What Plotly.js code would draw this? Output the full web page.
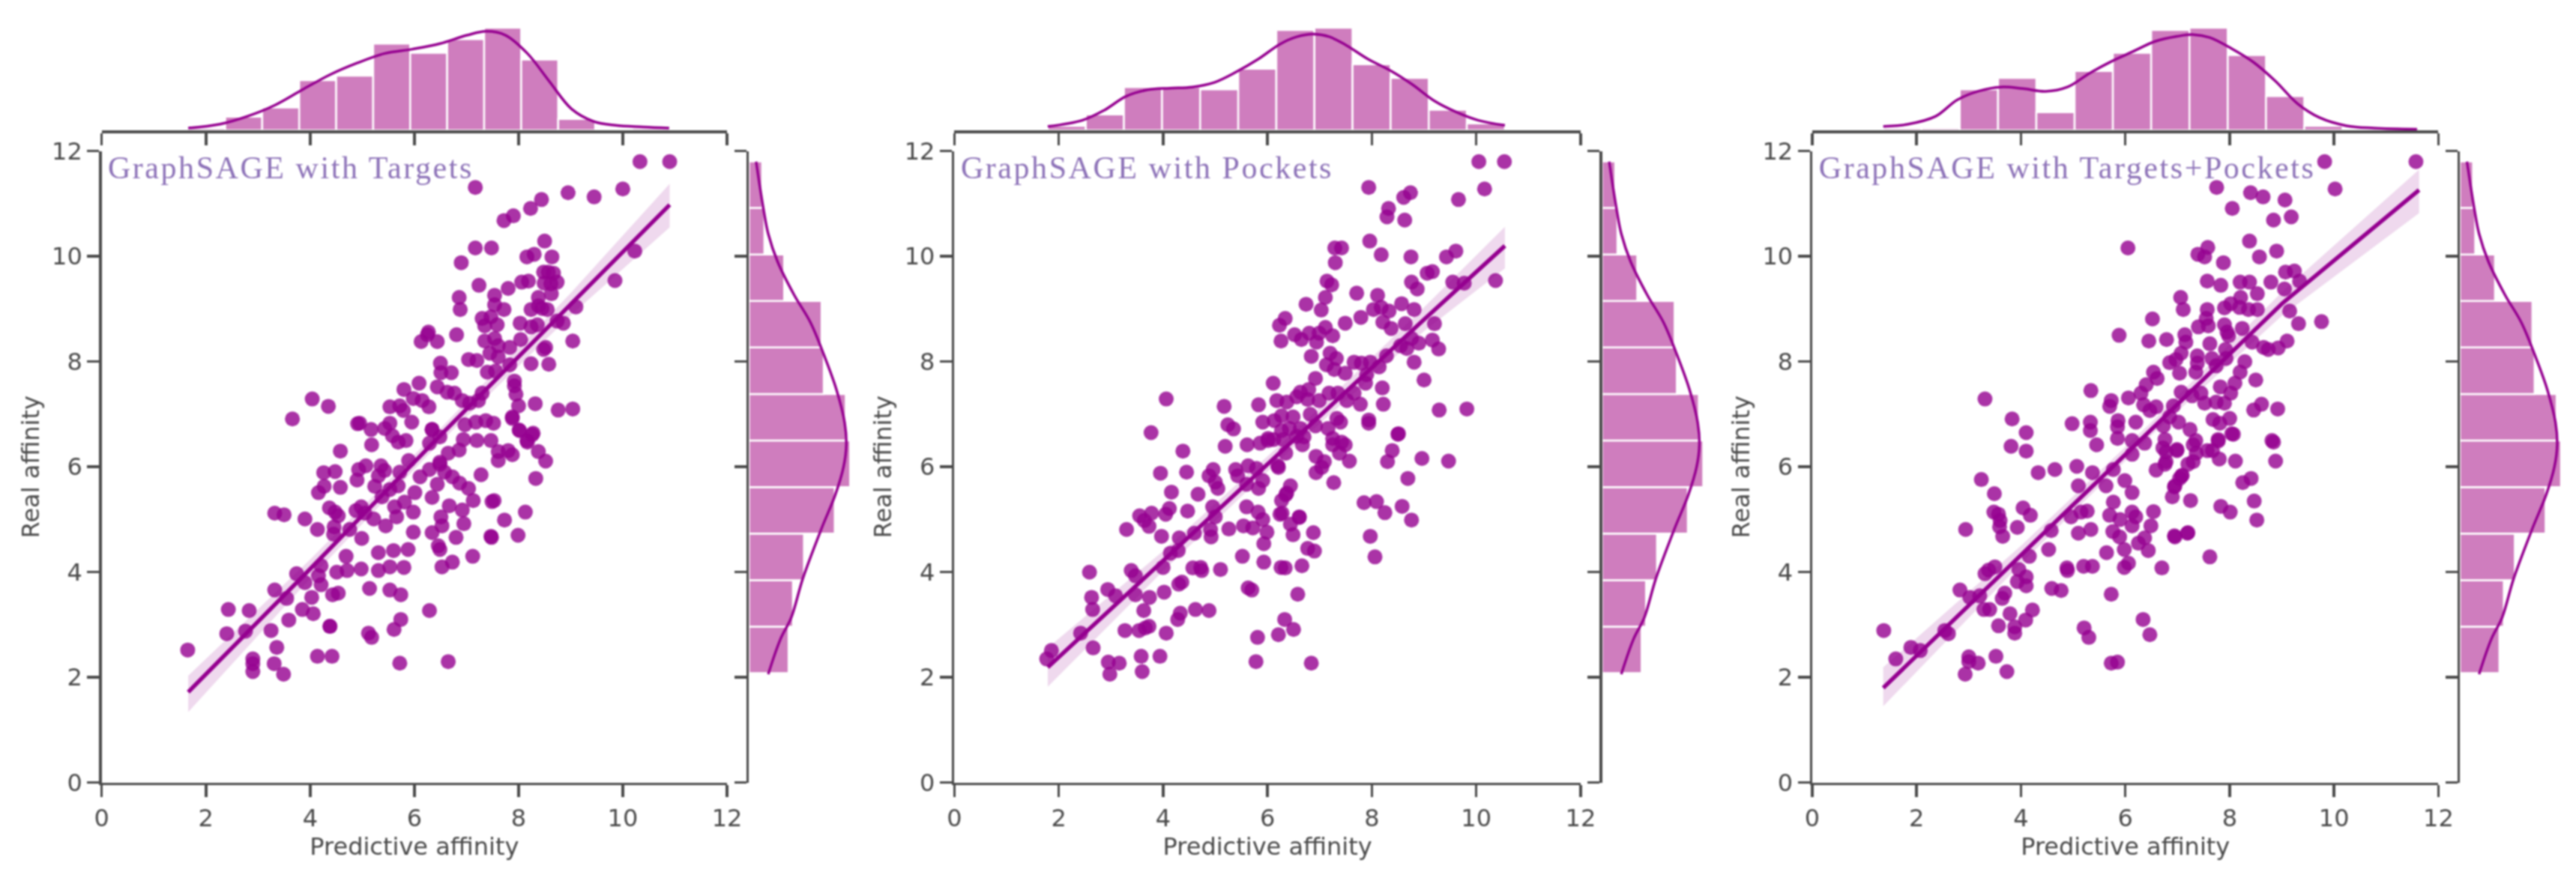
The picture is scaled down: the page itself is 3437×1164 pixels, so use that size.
<!DOCTYPE html>
<html><head><meta charset="utf-8">
<script src="https://cdn.plot.ly/plotly-3.0.1.min.js"></script>
<style>html,body{margin:0;padding:0;background:#fff}#c{width:3437px;height:1164px;filter:blur(0.8px)}.annotation text{letter-spacing:2.55px}</style>
</head><body><div id="c"></div>
<script>
// Panel 1: GraphSAGE with Targets
const targetsX=[4.04,4.35,3.66,4.91,5.84,5.69,5.18,4.58,6.34,4.26,4.48,4.93,5.07,5.36,5.43,4.9,5.31,5.24,4.58,4.27,4.16,5.89,5.72,6.11,6.29,6.49,6.65,6.86,6.29,6.49,7.28,6.49,6.58,6.73,6.87,7.04,6.44,6.34,7.13,6.01,5.69,5.53,5.38,5.81,5.62,5.98,5.66,5.22,5.45,5.98,6.67,6.92,6.51,6.53,6.95,6.34,6.8,6.46,6.49,7.12,7.48,7.49,6.73,6.53,4.37,4.48,4.54,3.32,3.5,3.9,4.14,4.46,4.45,4.76,4.99,4.88,4.98,5.05,4.69,5.31,5.6,5.88,5.8,5.53,5.31,4.98,4.71,4.51,4.21,4.16,3.74,3.9,4.21,3.32,3.55,4.03,4.54,4.43,5.14,5.53,5.74,6.29,2.43,2.83,3.85,4.06,3.59,4.38,4.38,5.74,5.61,2.4,2.76,3.25,5.12,5.18,3.36,1.65,4.14,4.42,2.9,2.9,3.31,2.9,3.49,5.72,6.65,
10.33,10.9,7.17,8.95,9.45,10.0,8.44,8.23,7.9,7.72,8.5,7.17,7.48,8.3,8.16,8.64,6.9,10.23,8.57,8.48,8.67,9.85,8.19,8.06,7.24,8.74,8.49,8.62,7.8,8.63,7.54,6.86,6.88,7.54,7.72,8.38,9.1,8.38,8.24,8.45,8.55,7.3,7.47,8.74,8.86,8.03,8.24,8.36,7.35,7.59,6.27,6.13,6.44,6.25,6.81,9.04,7.35,7.54,8.04,7.61,7.83,8.52,8.48,7.45,7.04,7.2,7.61,7.83,8.24,8.58,6.5,6.51,6.71,7.4,7.56,7.92,7.92,6.09,5.8,6.44,6.63,6.77,7.95,5.98,6.15,6.28,6.92,7.3,7.23,7.06,8.0,8.32,8.76,9.04,5.53,5.72,5.79,5.95,7.88,6.97,7.18,7.37,7.52,6.34,8.02,8.28,8.16,4.95,5.17,5.53,5.43,5.58,6.94,7.2,7.47,
8.52,8.33,8.38,8.26,8.17,8.01,7.88,7.88,7.8,7.61,7.61,7.53,7.73,7.99,8.13,7.47];
const targetsY=[7.29,7.15,6.91,6.82,6.5,6.47,6.42,6.3,6.71,5.89,5.91,5.95,6.02,6.02,5.93,5.75,5.83,5.63,5.61,5.63,5.51,6.12,5.9,5.81,5.95,6.09,6.26,6.32,6.45,6.57,5.85,6.05,5.9,5.81,5.69,5.59,5.67,5.42,5.36,5.51,5.64,5.57,5.43,5.33,5.24,5.14,5.05,5.01,4.88,4.76,5.26,5.18,5.05,4.88,4.92,4.75,4.66,4.5,4.43,4.3,4.66,5.34,4.19,4.1,5.22,5.14,5.07,5.12,5.09,5.01,4.81,4.86,4.72,4.81,4.64,5.17,5.24,5.12,4.3,4.37,4.41,4.43,4.09,4.1,4.03,4.06,4.03,4.0,4.12,3.93,3.97,3.8,3.76,3.66,3.5,3.52,3.6,3.57,3.69,3.66,3.57,3.27,3.29,3.27,3.29,3.21,3.09,2.97,2.97,3.1,2.91,2.83,2.88,2.89,2.84,2.76,2.57,2.52,2.4,2.4,2.35,2.26,2.26,2.11,2.06,2.27,2.3,
11.8,11.8,11.31,11.21,11.13,11.28,11.08,10.91,10.77,10.68,10.29,10.16,10.16,10.04,9.99,9.99,9.88,10.1,9.7,9.7,9.68,9.54,9.53,9.51,9.45,9.51,9.49,9.48,9.39,9.29,9.26,9.22,8.99,9.08,8.99,9.22,9.04,9.06,8.99,9.01,8.99,8.82,8.85,8.77,8.73,8.73,8.66,8.7,8.68,8.7,8.56,8.38,8.38,8.51,8.51,8.39,8.39,8.44,8.42,8.3,8.27,8.27,8.23,8.16,8.04,8.02,8.09,7.94,7.96,7.95,7.97,7.79,7.79,7.8,7.82,7.63,7.54,7.59,7.47,7.52,7.42,7.4,7.38,7.3,7.26,7.14,7.26,7.4,7.26,7.21,7.16,7.2,7.08,7.1,7.14,7.16,7.07,6.85,6.92,6.8,6.85,6.88,6.83,6.71,6.69,6.64,6.5,6.83,6.71,6.83,6.73,6.59,6.52,6.5,6.5,
6.11,5.78,6.29,6.61,6.47,6.7,6.95,6.23,6.31,6.12,6.29,5.36,4.99,4.7,5.14,4.68];
// Panel 2: GraphSAGE with Pockets
const pocketsX=[4.06,5.17,5.83,3.77,5.24,5.35,5.91,5.19,4.38,5.61,5.86,6.01,6.12,3.95,4.45,4.96,4.88,5.0,5.05,5.39,5.43,5.63,5.79,5.6,5.91,5.83,6.2,6.44,6.37,6.27,6.28,6.61,6.44,6.49,6.88,4.16,4.67,4.12,4.47,4.95,5.0,3.55,3.78,4.05,3.64,3.73,3.3,3.97,4.31,4.6,4.91,4.92,5.26,5.54,5.72,5.6,5.82,5.91,5.99,5.93,4.29,4.14,5.52,6.77,6.9,5.93,6.26,6.34,6.66,2.59,3.39,3.47,4.0,4.57,4.72,4.74,5.1,2.94,3.09,2.63,2.65,3.47,3.74,4.02,4.3,4.36,3.63,4.33,4.28,4.62,4.88,5.63,5.7,6.58,6.33,6.5,6.21,5.81,2.42,3.27,3.54,3.66,3.73,4.06,2.66,1.86,1.77,2.95,3.16,3.58,3.94,2.98,3.6,5.78,6.84,
10.05,10.54,7.94,8.74,8.61,10.16,9.66,8.32,8.29,8.63,7.96,8.18,7.29,7.42,7.3,8.75,9.61,9.43,9.16,9.06,7.14,7.23,8.76,8.87,9.55,9.77,10.37,7.71,8.11,7.11,6.74,7.03,6.34,6.23,6.26,7.49,7.79,8.03,8.18,8.33,8.57,8.81,8.21,8.37,8.64,9.2,6.52,6.65,6.8,6.94,7.11,7.25,6.99,9.16,9.28,8.9,8.67,8.55,8.76,6.84,7.2,7.32,8.81,7.13,7.28,7.49,7.66,7.97,7.8,8.14,8.28,7.9,6.92,9.0,6.11,8.2,7.88,6.79,6.63,6.18,6.37,6.56,6.77,6.99,7.18,7.35,7.52,7.66,7.78,8.22,9.29,9.82,6.13,6.27,6.49,6.42,6.27,6.63,6.82,6.92,7.16,7.33,7.4,7.94,7.94,8.5,7.25,7.42,6.01,6.7,6.3,
7.57,7.38,7.25,7.49,7.27,6.93,7.04,6.93,7.09,8.3,8.39,8.51,8.96,9.47,8.69,8.58,8.76,7.85,8.09,8.25,7.97,8.06,6.61,6.67,6.56,6.35,6.21,6.35,6.24];
const pocketsY=[7.29,7.15,7.18,6.65,6.8,6.72,6.85,6.39,6.3,6.42,6.45,6.5,6.52,5.88,5.9,5.95,5.83,5.71,5.59,5.95,5.83,6.02,5.97,5.67,5.74,5.59,6.02,5.64,5.5,5.36,5.12,5.05,4.91,4.71,4.75,5.52,5.48,5.21,5.16,5.24,5.05,5.07,5.12,5.1,4.98,4.87,4.81,4.68,4.65,4.74,4.81,4.67,4.82,4.88,4.84,5.24,5.14,5.0,4.76,4.54,4.41,4.36,4.3,4.45,4.4,4.19,4.09,4.08,4.12,4.0,4.03,3.93,4.09,4.08,4.09,4.03,4.05,3.67,3.55,3.52,3.29,3.57,3.52,3.62,3.77,3.81,3.27,3.22,3.1,3.29,3.27,3.7,3.66,3.58,3.1,2.91,2.81,2.76,2.84,2.89,2.89,2.94,2.97,2.84,2.56,2.51,2.35,2.29,2.27,2.4,2.4,2.06,2.11,2.3,2.27,
11.8,11.8,11.31,11.21,11.12,11.28,11.08,10.91,10.75,10.69,10.29,10.03,10.16,10.16,9.88,9.99,10.1,9.99,9.71,9.68,9.53,9.46,9.51,9.38,9.51,9.49,9.54,9.3,9.26,9.22,9.09,8.98,8.82,8.69,8.39,8.73,8.84,8.99,9.03,8.96,9.1,8.99,8.75,8.63,8.72,8.72,8.51,8.42,8.54,8.37,8.65,8.49,8.54,8.41,8.24,8.35,8.25,8.3,8.44,8.1,8.16,8.06,7.99,7.94,7.85,7.78,7.99,7.99,7.97,7.9,8.11,7.75,7.68,7.65,7.59,7.5,7.59,7.47,7.42,7.26,7.23,7.33,7.28,7.26,7.4,7.4,7.26,7.4,7.19,7.19,7.08,7.1,6.88,6.97,6.95,6.73,6.69,6.73,7.0,6.78,6.73,6.92,6.85,6.89,6.83,6.62,6.54,6.47,6.54,6.57,6.52,
6.11,6.26,6.42,6.42,5.7,6.2,5.99,5.89,6.1,6.1,6.31,6.63,6.16,6.11,5.78,5.25,4.99,5.32,5.34,5.13,4.68,4.29,5.04,6.42,6.58,6.26,5.99,5.47,5.1];
// Panel 3: GraphSAGE with Targets+Pockets
const bothX=[3.31,3.83,4.1,3.81,4.1,5.34,5.73,5.7,6.06,6.3,6.35,6.47,6.59,4.98,5.33,5.33,5.45,5.86,5.85,5.85,6.2,6.13,6.37,6.13,6.76,6.99,6.78,4.33,4.65,5.07,5.1,5.37,5.77,5.63,5.99,6.13,6.59,6.76,7.08,6.9,6.95,3.24,3.49,3.48,3.57,3.6,3.59,3.65,4.04,4.18,3.93,2.94,4.58,5.27,4.96,5.15,5.1,5.34,5.77,5.7,5.9,5.76,5.89,6.13,6.2,6.13,6.54,6.49,6.37,6.25,6.44,5.98,5.64,4.53,4.16,6.95,7.19,6.7,6.06,5.98,4.88,4.89,5.2,5.37,3.5,3.38,3.31,3.96,4.1,3.93,4.1,2.83,3.02,3.21,3.69,3.64,4.59,4.77,5.73,3.29,3.4,3.79,4.22,4.09,3.57,3.88,3.88,5.21,5.3,6.34,6.47,1.37,2.54,2.61,1.89,2.07,1.6,3.0,3.0,3.18,3.52,3.73,2.93,5.73,5.85,
9.82,11.57,10.02,7.75,8.4,8.64,9.06,8.05,9.18,8.84,8.38,6.05,7.58,7.39,7.52,7.88,8.57,8.9,9.07,9.24,9.34,8.79,9.05,7.57,7.83,8.2,8.38,8.53,7.06,7.11,7.57,8.21,8.02,7.9,8.19,8.36,8.53,9.15,6.52,7.55,7.4,7.59,7.9,7.95,8.24,9.32,9.76,5.88,6.45,6.79,7.14,7.16,7.62,7.98,8.43,9.1,8.65,8.74,8.93,7.92,7.07,7.38,7.66,7.93,6.85,6.97,7.38,7.74,8.29,6.54,7.04,7.35,8.2,6.61,6.4,8.5,8.1,7.82,8.02,7.07,7.28,7.45,6.92,7.52,7.74,7.9,8.61,8.46,8.92,8.0,7.68,7.81,7.02,6.85,6.73,7.24,8.07,7.78,8.81,7.35,
8.88,8.84,8.11,8.41,8.25,8.47,8.52,8.01,7.83,7.62,7.25,7.2,6.94,7.8,7.36,7.57,7.67,7.3,7.3,7.09,7.04,6.94,7.2,6.78,6.72,6.99,7.78,8.04];
const bothY=[7.29,6.91,6.65,6.39,6.3,7.45,7.26,7.15,7.31,7.4,7.18,7.07,7.14,6.82,6.85,6.69,6.42,6.88,6.76,6.54,6.85,6.5,6.45,6.24,6.52,6.33,6.28,5.89,5.95,6.01,5.64,5.89,5.95,5.64,5.74,5.51,5.94,6.05,5.83,5.43,5.64,5.76,5.49,5.14,5.1,4.98,4.86,4.68,5.22,5.08,4.85,4.81,4.79,5.16,5.05,5.14,4.74,4.81,5.33,5.08,5.0,4.77,4.67,5.14,5.05,4.88,5.15,4.88,4.65,4.55,4.41,4.43,4.37,4.43,4.3,4.67,4.74,4.08,4.17,4.09,4.08,4.03,4.11,4.11,4.1,4.04,3.97,4.05,3.91,3.82,3.74,3.66,3.52,3.55,3.6,3.5,3.69,3.65,3.58,3.29,3.29,3.21,3.28,3.09,2.98,2.96,2.84,2.94,2.76,3.1,2.81,2.89,2.89,2.83,2.57,2.51,2.35,2.39,2.3,2.27,2.4,2.11,2.06,2.27,2.29,
11.8,11.8,11.28,11.31,11.21,11.13,11.07,10.91,10.75,10.69,10.29,10.16,10.17,10.04,9.99,9.88,9.99,10.1,9.7,9.72,9.53,9.51,9.38,9.53,9.45,9.51,9.51,9.29,9.22,8.99,8.99,9.22,9.1,9.02,9.03,8.99,8.99,8.96,8.81,8.82,8.66,8.68,8.7,8.56,8.63,8.72,8.76,8.5,8.39,8.42,8.51,8.37,8.34,8.49,8.37,8.39,8.27,8.23,8.26,8.23,8.16,8.11,8.06,8.06,7.98,8.04,7.97,7.92,8.0,7.8,7.78,7.8,7.8,7.68,7.56,7.65,7.59,7.52,7.4,7.42,7.35,7.4,7.16,7.21,7.23,7.21,7.19,7.08,7.1,6.92,6.9,6.83,6.85,6.95,6.78,6.71,6.62,6.52,6.5,6.5,
6.11,6.47,6.11,5.78,5.7,5.35,4.99,5.14,5.25,4.29,5.36,4.75,4.69,6.15,6.26,6.31,6.31,6.42,6.1,5.84,5.78,5.62,6.05,6.1,6.36,6.31,6.49,6.63];
// Regression lines and confidence bands
const fitX1=[1.66,4,6.5,9,10.9], fitLine1=[1.72,4.06,6.6,9.08,10.98], fitLow1=[1.34,3.88,6.47,8.88,10.55], fitHigh1=[2.03,4.24,6.73,9.3,11.38];
const fitX2=[1.79,4,6.5,9,10.55], fitLine2=[2.19,4.22,6.51,8.8,10.2], fitLow2=[1.82,4.02,6.38,8.58,9.77], fitHigh2=[2.56,4.4,6.65,9.03,10.56];
const fitX3=[1.36,4,6.5,9,11.63], fitLine3=[1.8,4.33,6.72,9.1,11.26], fitLow3=[1.45,4.16,6.6,8.87,10.82], fitHigh3=[2.19,4.5,6.85,9.32,11.65];
// Top histograms
const topStart1=1.66, topWidth1=0.71, topCount1=[1,6,10,22,24,38,34,40,45,31,5,0,1];
const topStart2=1.79, topWidth2=0.73, topCount2=[2,7,19,19,18,27,44,45,29,23,9,3];
const topStart3=1.36, topWidth3=0.7336, topCount3=[1,1,18,23,8,26,34,44,45,33,15,2,0,1];
// Top density curves
const kdeX1=[1.66,2.27,2.79,3.32,3.85,4.38,4.9,5.43,5.96,6.49,7.01,7.38,7.75,8.17,8.59,9.02,9.44,9.86,10.39,10.89];
const kdeC1=[1,2.7,6.1,11,17.8,24.4,29.5,33.7,35.6,38,41.7,43.4,41.7,33.7,21.5,9.3,3.9,2.2,1.5,1];
const kdeX2=[1.79,2.45,2.87,3.29,3.71,4.13,4.56,4.98,5.4,5.82,6.24,6.56,6.88,7.19,7.51,7.93,8.35,8.77,9.2,9.62,10.04,10.55];
const kdeC2=[1.7,4.4,8.8,14.9,17.8,18.5,19,21,25.6,31.2,37.8,41,42.2,41,37.3,31.2,26.3,20.2,12.9,8,4.4,2.2];
const kdeX3=[1.36,1.84,2.36,2.78,3.2,3.62,4.04,4.47,4.89,5.31,5.73,6.15,6.57,6.99,7.3,7.62,8.04,8.46,8.88,9.3,9.72,10.24,10.77,11.59];
const kdeC3=[1.7,2.7,6.1,13.4,17.3,19,18.3,17.1,19,25,30.2,34.6,39,41.2,42,40.7,35.8,29.8,21.5,11.7,5.6,2,1,0.5];
// Right histogram and density, same real affinity in each panel
const rightStart=2.08, rightWidth=0.884, rightCount=[18,20,25,39,46,44,34,33,16,7,6];
const rKdeY=[2.06,2.72,3.14,3.88,4.83,5.47,6.0,6.42,6.84,7.47,8.11,8.74,9.27,9.9,10.43,10.86,11.38,11.8];
const rKdeC=[8.75,14.25,19.25,24.5,33,39.25,43,44.25,43.5,39.75,34.25,28,20.5,13,8.75,6.75,4.75,3.25];
const titles=['GraphSAGE with Targets','GraphSAGE with Pockets','GraphSAGE with Targets+Pockets'];
const tickVals=[0,2,4,6,8,10,12];

const W=3437,H=1164, dark='#4a4a4a', purple='#950090';
const panels=[
 {x0:135.7,x1:970,sp:999.3,px:targetsX,py:targetsY,fx:fitX1,fl:fitLine1,lo:fitLow1,hi:fitHigh1,ts:topStart1,tw:topWidth1,tc:topCount1,kx:kdeX1,kc:kdeC1},
 {x0:1273.3,x1:2108.9,sp:2137.5,px:pocketsX,py:pocketsY,fx:fitX2,fl:fitLine2,lo:fitLow2,hi:fitHigh2,ts:topStart2,tw:topWidth2,tc:topCount2,kx:kdeX2,kc:kdeC2},
 {x0:2418,x1:3253.4,sp:3282,px:bothX,py:bothY,fx:fitX3,fl:fitLine3,lo:fitLow3,hi:fitHigh3,ts:topStart3,tw:topWidth3,tc:topCount3,kx:kdeX3,kc:kdeC3}];
const yB=1044.7,yT=201.7,topBase=174,topTop=30,rW=140;
const traces=[],layout={width:W,height:H,margin:{l:0,r:0,t:0,b:0},paper_bgcolor:'#fff',plot_bgcolor:'rgba(0,0,0,0)',showlegend:false,bargap:0,annotations:[]};
const font={family:'"DejaVu Sans",sans-serif',size:32,color:'#4a4a4a'};
const base={showgrid:false,zeroline:false,showline:true,linecolor:dark,linewidth:3.5,ticks:'outside',ticklen:16,tickwidth:3.5,tickcolor:dark,tickmode:'array',tickvals:tickVals};
const hidden={showgrid:false,zeroline:false,showline:false,ticks:'',showticklabels:false};
const seq=(s,w,n)=>Array.from({length:n},(_,i)=>s+w*(i+0.5));
panels.forEach((p,i)=>{
 const k=i*3, ax=[k+1,k+2,k+3], nm=n=>n===1?'':String(n);
 const xa=n=>'xaxis'+nm(n), ya=n=>'yaxis'+nm(n), xr=n=>'x'+nm(n), yr=n=>'y'+nm(n);
 layout[xa(ax[0])]={...base,domain:[p.x0/W,p.x1/W],range:[0,12],anchor:yr(ax[0]),tickfont:font,title:{text:'Predictive affinity',font,standoff:6}};
 layout[ya(ax[0])]={...base,domain:[1-yB/H,1-yT/H],range:[0,12],anchor:xr(ax[0]),tickfont:font,title:{text:'Real affinity',font,standoff:8}};
 layout[xa(ax[1])]={...base,domain:[p.x0/W,p.x1/W],range:[0,12],anchor:yr(ax[1]),showticklabels:false};
 layout[ya(ax[1])]={...hidden,domain:[1-topBase/H,1-topTop/H],range:[0,47.3],anchor:xr(ax[1])};
 layout[ya(ax[2])]={...base,domain:[1-yB/H,1-yT/H],range:[0,12],anchor:xr(ax[2]),showticklabels:false};
 layout[xa(ax[2])]={...hidden,domain:[p.sp/W,(p.sp+rW)/W],range:[0,47.7],anchor:yr(ax[2])};
 traces.push({type:'scatter',mode:'markers',x:p.px,y:p.py,xaxis:xr(ax[0]),yaxis:yr(ax[0]),marker:{size:20,color:purple,opacity:0.8,line:{width:0}},hoverinfo:'skip'});
 traces.push({type:'scatter',mode:'lines',x:p.fx.concat(p.fx.slice().reverse()),y:p.lo.concat(p.hi.slice().reverse()),fill:'toself',fillcolor:'rgba(150,0,140,0.15)',line:{width:0,color:'rgba(0,0,0,0)'},xaxis:xr(ax[0]),yaxis:yr(ax[0]),hoverinfo:'skip'});
 traces.push({type:'scatter',mode:'lines',x:p.fx,y:p.fl,line:{color:purple,width:5.5},xaxis:xr(ax[0]),yaxis:yr(ax[0]),hoverinfo:'skip'});
 traces.push({type:'bar',x:seq(p.ts,p.tw,p.tc.length),y:p.tc,width:p.tw,marker:{color:'#cf7dbe',line:{color:'#fff',width:2.5}},xaxis:xr(ax[1]),yaxis:yr(ax[1]),hoverinfo:'skip'});
 traces.push({type:'scatter',mode:'lines',x:p.kx,y:p.kc,line:{color:purple,width:3.5,shape:'spline'},xaxis:xr(ax[1]),yaxis:yr(ax[1]),hoverinfo:'skip'});
 traces.push({type:'bar',orientation:'h',y:seq(rightStart,rightWidth,rightCount.length),x:rightCount,width:rightWidth,marker:{color:'#cf7dbe',line:{color:'#fff',width:2.5}},xaxis:xr(ax[2]),yaxis:yr(ax[2]),hoverinfo:'skip'});
 traces.push({type:'scatter',mode:'lines',x:rKdeC,y:rKdeY,line:{color:purple,width:3.5,shape:'spline'},xaxis:xr(ax[2]),yaxis:yr(ax[2]),hoverinfo:'skip'});
 layout.annotations.push({xref:xr(ax[0]),yref:yr(ax[0]),x:0.09,y:11.68,xanchor:'left',yanchor:'middle',xshift:titles[i].length*1.275,showarrow:false,text:titles[i],font:{family:'"Liberation Serif",serif',size:42,color:'#8d72b8'}});
});
Plotly.newPlot('c',traces,layout,{staticPlot:true,displayModeBar:false});
</script></body></html>
